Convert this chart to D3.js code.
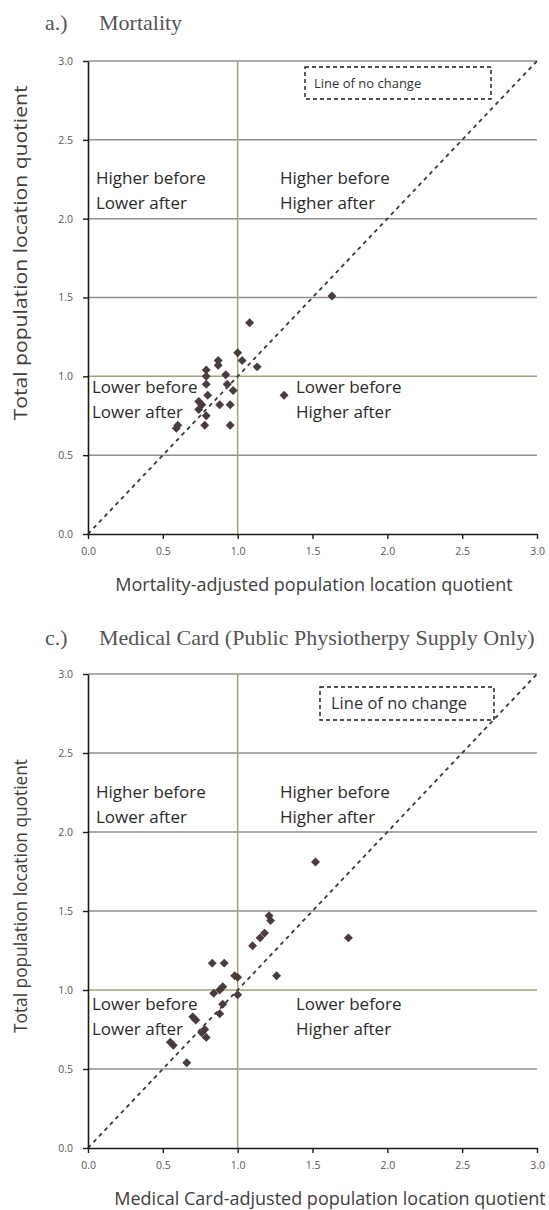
<!DOCTYPE html>
<html>
<head>
<meta charset="utf-8">
<script src="https://cdn.jsdelivr.net/npm/d3@7"></script>
<style>
  body { margin: 0; background: #fff; }
  svg { display: block; }
</style>
</head>
<body>
<script>
// values (adjusted LQ on x, total LQ on y)
const mortalityX = [1.63, 1.08, 1.00, 1.03, 1.13, 0.87, 0.87, 0.79, 0.79, 0.92, 0.79, 0.93, 0.97, 0.80,
  0.74, 0.76, 0.88, 0.95, 0.74, 0.79, 0.78, 0.95, 0.60, 0.59, 1.31];
const mortalityY = [1.51, 1.34, 1.15, 1.10, 1.06, 1.10, 1.07, 1.04, 1.00, 1.01, 0.95, 0.95, 0.91, 0.88,
  0.84, 0.82, 0.82, 0.82, 0.79, 0.75, 0.69, 0.69, 0.69, 0.67, 0.88];

const medicalX = [1.52, 1.74, 1.21, 1.22, 1.18, 1.15, 1.10, 1.26, 0.98, 1.00, 1.00, 0.83, 0.91,
  0.90, 0.88, 0.84, 0.90, 0.88, 0.70, 0.72, 0.78, 0.76, 0.79, 0.55, 0.57, 0.66];
const medicalY = [1.81, 1.33, 1.47, 1.44, 1.36, 1.33, 1.28, 1.09, 1.09, 1.08, 0.97, 1.17, 1.17,
  1.02, 1.00, 0.98, 0.91, 0.85, 0.83, 0.81, 0.75, 0.73, 0.70, 0.67, 0.65, 0.54];

const tickValues = [0, 0.5, 1, 1.5, 2, 2.5, 3];

const quadHigh = [["Higher before", "Lower after"], ["Higher before", "Higher after"]];
const quadLow = [["Lower before", "Lower after"], ["Lower before", "Higher after"]];

const sans = "'Open Sans', 'Liberation Sans', sans-serif";
const serif = "'Liberation Serif', 'DejaVu Serif', serif";

const svg = d3.select("body")
  .append("svg")
  .attr("width", 549)
  .attr("height", 1210);

const panels = [
  {
    letter: "a.)", title: "Mortality", titleY: 30,
    top: 61, bottom: 534,
    xs: mortalityX, ys: mortalityY,
    xTitle: "Mortality-adjusted population location quotient", xTitleX: 314,
    yTitleY: 253, yTitleLen: 335,
    box: [305, 67, 186, 32], boxFont: 13, boxTextX: 314,
    highY: 184, lowY: 393
  },
  {
    letter: "c.)", title: "Medical Card (Public Physiotherpy Supply Only)", titleY: 645,
    top: 674, bottom: 1148,
    xs: medicalX, ys: medicalY,
    xTitle: "Medical Card-adjusted population location quotient", xTitleX: 330,
    yTitleY: 896, yTitleLen: 274,
    box: [320, 687, 174, 33], boxFont: 16.5, boxTextX: 331,
    highY: 798, lowY: 1010
  }
];

panels.forEach((p) => {
  const g = svg.append("g");

  const x = d3.scaleLinear().domain([0, 3]).range([88, 537]);
  const y = d3.scaleLinear().domain([0, 3]).range([p.bottom, p.top]);

  // title
  g.append("text")
    .attr("x", 45)
    .attr("y", p.titleY)
    .style("font-family", serif)
    .style("font-size", "22px")
    .style("fill", "#555")
    .text(p.letter);
  g.append("text")
    .attr("x", 99)
    .attr("y", p.titleY)
    .style("font-family", serif)
    .style("font-size", "22px")
    .style("fill", "#555")
    .text(p.title);

  // horizontal gridlines
  g.selectAll(".grid")
    .data(tickValues.filter((v) => v > 0))
    .enter()
    .append("line")
    .attr("x1", x(0))
    .attr("x2", x(3))
    .attr("y1", (d) => y(d))
    .attr("y2", (d) => y(d))
    .attr("stroke", (d) => d === 1 ? "#a2a27c" : "#8f8f8f")
    .attr("stroke-width", 1.5);

  // vertical line at 1.0
  g.append("line")
    .attr("x1", x(1))
    .attr("x2", x(1))
    .attr("y1", y(0))
    .attr("y2", y(3))
    .attr("stroke", "#a2a27c")
    .attr("stroke-width", 1.5);

  // line of no change
  g.append("line")
    .attr("x1", x(0))
    .attr("y1", y(0))
    .attr("x2", x(3))
    .attr("y2", y(3))
    .attr("stroke", "#3a3a3a")
    .attr("stroke-width", 1.8)
    .attr("stroke-dasharray", "4,4");

  // axes
  const yAxis = d3.axisLeft(y)
    .tickValues(tickValues)
    .tickSize(5)
    .tickSizeOuter(0)
    .tickPadding(10)
    .tickFormat(d3.format(".1f"));
  const xAxis = d3.axisBottom(x)
    .tickValues(tickValues)
    .tickSize(5)
    .tickSizeOuter(0)
    .tickPadding(9)
    .tickFormat(d3.format(".1f"));

  const ya = g.append("g").attr("transform", `translate(${x(0)},0)`).call(yAxis);
  const xa = g.append("g").attr("transform", `translate(0,${y(0)})`).call(xAxis);

  [ya, xa].forEach((a) => {
    a.select(".domain").attr("stroke", "#1a1a1a").attr("stroke-width", 1.6);
    a.selectAll(".tick line").attr("stroke", "#1a1a1a").attr("stroke-width", 1.4);
    a.selectAll(".tick text")
      .style("font-family", sans)
      .style("font-size", "10.5px")
      .style("fill", "#595959");
  });

  // points
  g.selectAll(".dot")
    .data(p.xs.map((v, i) => [v, p.ys[i]]))
    .enter()
    .append("path")
    .attr("class", "dot")
    .attr("d", d3.symbol(d3.symbolSquare, 40))
    .attr("transform", (d) => `translate(${x(d[0])},${y(d[1])}) rotate(45)`)
    .attr("fill", "#4a3c3c");

  // quadrant labels
  const quad = (lines, tx, ty) => {
    const t = g.append("text")
      .attr("x", tx)
      .attr("y", ty)
      .style("font-family", sans)
      .style("font-size", "17px")
      .style("fill", "#2a2a2a");
    lines.forEach((s, i) => {
      t.append("tspan").attr("x", tx).attr("dy", i === 0 ? 0 : 24.5).text(s);
    });
  };
  quad(quadHigh[0], 96, p.highY);
  quad(quadHigh[1], 280, p.highY);
  quad(quadLow[0], 92, p.lowY);
  quad(quadLow[1], 296, p.lowY);

  // legend box
  g.append("rect")
    .attr("x", p.box[0])
    .attr("y", p.box[1])
    .attr("width", p.box[2])
    .attr("height", p.box[3])
    .attr("fill", "#fff")
    .attr("stroke", "#1a1a1a")
    .attr("stroke-width", 1.4)
    .attr("stroke-dasharray", "4,3");
  g.append("text")
    .attr("x", p.boxTextX)
    .attr("y", p.box[1] + p.box[3] / 2)
    .attr("dy", "0.35em")
    .style("font-family", sans)
    .style("font-size", p.boxFont + "px")
    .style("fill", "#333")
    .text("Line of no change");

  // axis titles
  g.append("text")
    .attr("x", p.xTitleX)
    .attr("y", y(0) + 57)
    .attr("text-anchor", "middle")
    .style("font-family", sans)
    .style("font-size", "18px")
    .style("fill", "#404040")
    .text(p.xTitle);

  g.append("text")
    .attr("transform", `translate(27,${p.yTitleY}) rotate(-90)`)
    .attr("text-anchor", "middle")
    .attr("textLength", p.yTitleLen)
    .attr("lengthAdjust", "spacingAndGlyphs")
    .style("font-family", sans)
    .style("font-size", "18px")
    .style("fill", "#404040")
    .text("Total population location quotient");
});
</script>
</body>
</html>
